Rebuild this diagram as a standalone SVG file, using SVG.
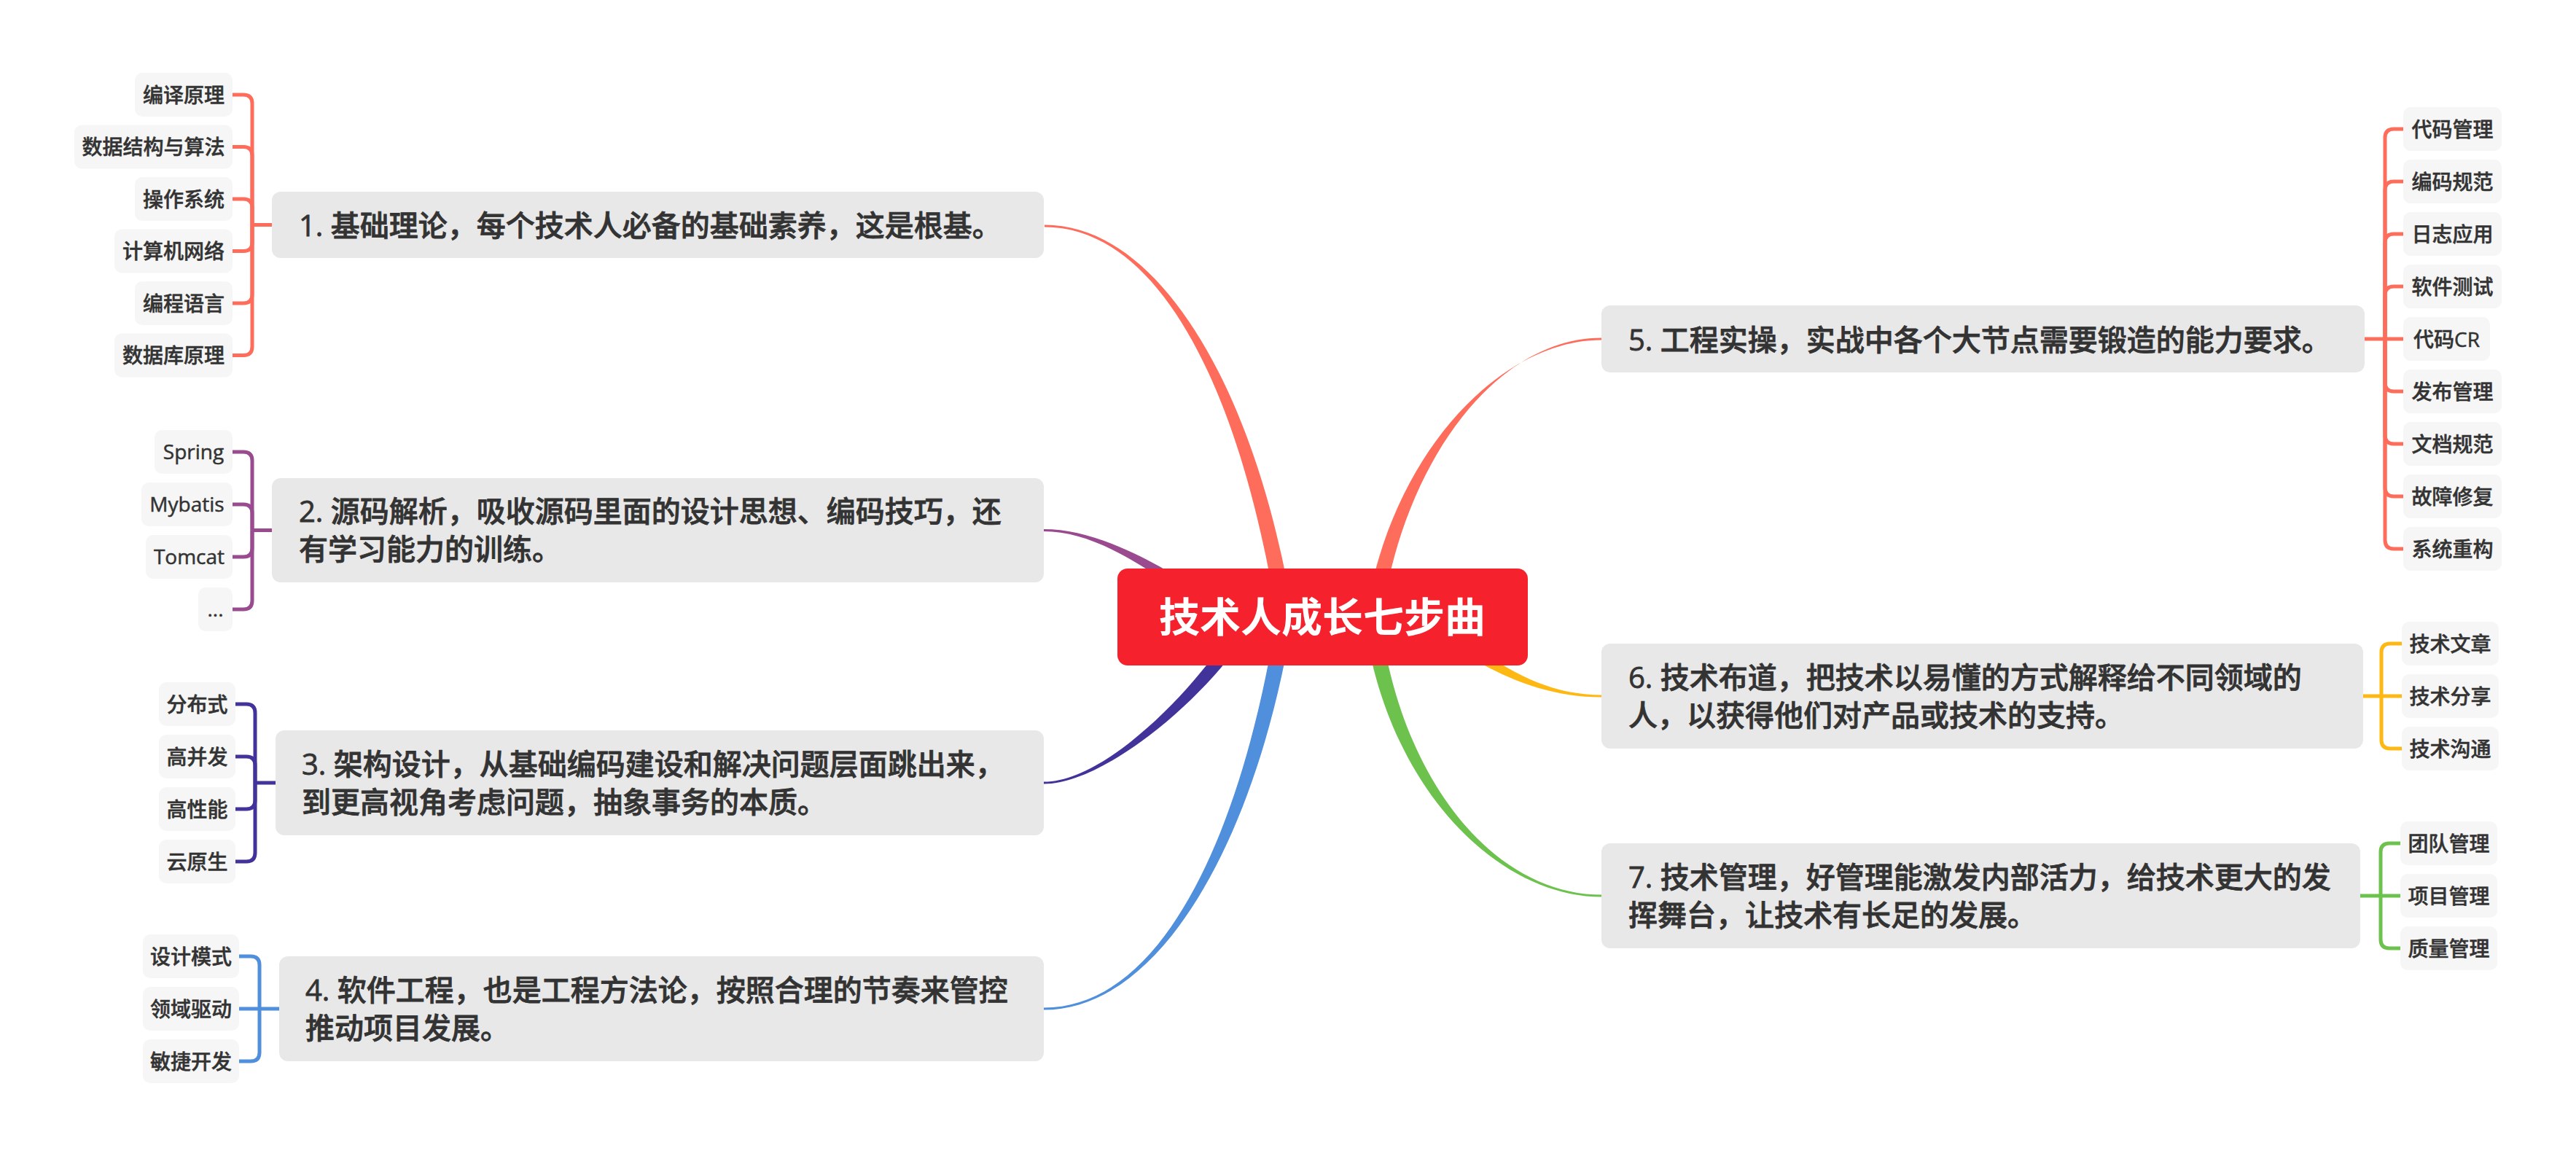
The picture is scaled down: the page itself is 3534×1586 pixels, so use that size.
<svg xmlns="http://www.w3.org/2000/svg" width="3534" height="1586" viewBox="0 0 3534 1586">
<style>
.bg{fill:#ffffff}
.br rect{fill:#E8E8E8}
.lf rect{fill:#F6F6F6}
text{font-family:"Open Sans","Noto Sans CJK SC",sans-serif;fill:#333333}
.bt{font-size:40px;font-weight:500;stroke:#333333;stroke-width:0.8}
.lt{font-size:28px;text-anchor:middle;font-weight:500;stroke:#333333;stroke-width:0.5}
.rt{font-size:56px;font-weight:bold;fill:#ffffff;text-anchor:middle}
.lk{fill:none;stroke-width:5;stroke-linejoin:round}
.c1{stroke:#FE6D5B}.f1{fill:#FE6D5B}
.c2{stroke:#9A4A8E}.f2{fill:#9A4A8E}
.c3{stroke:#42339A}.f3{fill:#42339A}
.c4{stroke:#4F8FDB}.f4{fill:#4F8FDB}
.c6{stroke:#FDB813}.f6{fill:#FDB813}
.c7{stroke:#6DC24E}.f7{fill:#6DC24E}
</style>
<rect class="bg" x="0" y="0" width="3534" height="1586"/>
<g id="connectors">
  <path class="f1" d="M1433,308.5 C1600,308.5 1730.9,558.4 1775.9,858.4 L1754.1,861.6 C1709.1,561.6 1600,311.5 1433,311.5 Z"/>
  <path class="f2" d="M1432,726 C1520,726 1626.1,792.1 1716.1,862.1 L1703.9,877.9 C1613.9,807.9 1520,729 1432,729 Z"/>
  <path class="f3" d="M1432,1075.5 C1520,1075.5 1668.7,944.9 1718.7,854.9 L1701.3,845.1 C1651.3,935.1 1520,1072.5 1432,1072.5 Z"/>
  <path class="f4" d="M1432,1385.5 C1600,1385.5 1730.9,1131.6 1775.9,831.6 L1754.1,828.4 C1709.1,1128.4 1600,1382.5 1432,1382.5 Z"/>
  <path class="f1" d="M2197,463.5 C2050,463.5 1915.9,641.1 1890.9,881.1 L1869.1,878.9 C1894.1,638.9 2050,466.5 2197,466.5 Z"/>
  <path class="f6" d="M2197,953.5 C2100,953.5 2026.5,892.4 1956.5,832.4 L1943.5,847.6 C2013.5,907.6 2100,956.5 2197,956.5 Z"/>
  <path class="f7" d="M2197,1227.5 C2050,1227.5 1915.9,1068.9 1890.9,828.9 L1869.1,831.1 C1894.1,1071.1 2050,1230.5 2197,1230.5 Z"/>

  <g class="lk c1">
    <path d="M319,130 H334 Q346,130 346,142 V308.5"/>
    <path d="M319,201.5 H334 Q346,201.5 346,213.5 V308.5"/>
    <path d="M319,273 H334 Q346,273 346,285 V308.5"/>
    <path d="M319,344.5 H334 Q346,344.5 346,332.5 V308.5"/>
    <path d="M319,416 H334 Q346,416 346,404 V308.5"/>
    <path d="M319,487.5 H334 Q346,487.5 346,475.5 V308.5"/>
    <path d="M346,308.5 H373"/>
  </g>
  <g class="lk c2">
    <path d="M319,620 H334 Q346,620 346,632 V727.5"/>
    <path d="M319,692 H334 Q346,692 346,704 V727.5"/>
    <path d="M319,764 H334 Q346,764 346,752 V727.5"/>
    <path d="M319,836 H334 Q346,836 346,824 V727.5"/>
    <path d="M346,727.5 H373"/>
  </g>
  <g class="lk c3">
    <path d="M323,966 H338 Q350,966 350,978 V1074"/>
    <path d="M323,1038 H338 Q350,1038 350,1050 V1074"/>
    <path d="M323,1110 H338 Q350,1110 350,1098 V1074"/>
    <path d="M323,1182 H338 Q350,1182 350,1170 V1074"/>
    <path d="M350,1074 H378"/>
  </g>
  <g class="lk c4">
    <path d="M328,1312 H344 Q356,1312 356,1324 V1384"/>
    <path d="M328,1384 H383"/>
    <path d="M328,1456 H344 Q356,1456 356,1444 V1384"/>
  </g>
  <g class="lk c1">
    <path d="M3297,177 H3284 Q3272,177 3272,189 V465"/>
    <path d="M3297,249 H3284 Q3272,249 3272,261 V465"/>
    <path d="M3297,321 H3284 Q3272,321 3272,333 V465"/>
    <path d="M3297,393 H3284 Q3272,393 3272,405 V465"/>
    <path d="M3244,465 H3297"/>
    <path d="M3297,537 H3284 Q3272,537 3272,525 V465"/>
    <path d="M3297,609 H3284 Q3272,609 3272,597 V465"/>
    <path d="M3297,681 H3284 Q3272,681 3272,669 V465"/>
    <path d="M3297,753 H3284 Q3272,753 3272,741 V465"/>
  </g>
  <g class="lk c6">
    <path d="M3295,883 H3279 Q3267,883 3267,895 V955"/>
    <path d="M3242,955 H3295"/>
    <path d="M3295,1027 H3279 Q3267,1027 3267,1015 V955"/>
  </g>
  <g class="lk c7">
    <path d="M3293,1157 H3278 Q3266,1157 3266,1169 V1229"/>
    <path d="M3238,1229 H3293"/>
    <path d="M3293,1301 H3278 Q3266,1301 3266,1289 V1229"/>
  </g>
</g>

<g id="root">
  <rect x="1533" y="780" width="563" height="133" rx="14" fill="#F5222D"/>
  <text class="rt" x="1814" y="867">技术人成长七步曲</text>
</g>

<g id="branch1" class="br">
  <rect x="373" y="263" width="1059" height="91" rx="12"/>
  <text class="bt" x="410" y="324">1. 基础理论，每个技术人必备的基础素养，这是根基。</text>
</g>
<g id="branch2" class="br">
  <rect x="373" y="656" width="1059" height="143" rx="12"/>
  <text class="bt" x="410" y="716">2. 源码解析，吸收源码里面的设计思想、编码技巧，还</text>
  <text class="bt" x="410" y="768">有学习能力的训练。</text>
</g>
<g id="branch3" class="br">
  <rect x="378" y="1002" width="1054" height="144" rx="12"/>
  <text class="bt" x="414" y="1063">3. 架构设计，从基础编码建设和解决问题层面跳出来，</text>
  <text class="bt" x="414" y="1115">到更高视角考虑问题，抽象事务的本质。</text>
</g>
<g id="branch4" class="br">
  <rect x="383" y="1312" width="1049" height="144" rx="12"/>
  <text class="bt" x="419" y="1373">4. 软件工程，也是工程方法论，按照合理的节奏来管控</text>
  <text class="bt" x="419" y="1425">推动项目发展。</text>
</g>
<g id="branch5" class="br">
  <rect x="2197" y="419" width="1047" height="92" rx="12"/>
  <text class="bt" x="2234" y="481">5. 工程实操，实战中各个大节点需要锻造的能力要求。</text>
</g>
<g id="branch6" class="br">
  <rect x="2197" y="883" width="1045" height="144" rx="12"/>
  <text class="bt" x="2234" y="944">6. 技术布道，把技术以易懂的方式解释给不同领域的</text>
  <text class="bt" x="2234" y="996">人，以获得他们对产品或技术的支持。</text>
</g>
<g id="branch7" class="br">
  <rect x="2197" y="1157" width="1041" height="144" rx="12"/>
  <text class="bt" x="2234" y="1218">7. 技术管理，好管理能激发内部活力，给技术更大的发</text>
  <text class="bt" x="2234" y="1270">挥舞台，让技术有长足的发展。</text>
</g>

<g id="b1-leaves" class="lf">
  <g id="l1a"><rect x="185" y="100" width="134" height="60" rx="10"/><text class="lt" x="252" y="140.5">编译原理</text></g>
  <g id="l1b"><rect x="102" y="171.5" width="217" height="60" rx="10"/><text class="lt" x="210.5" y="212">数据结构与算法</text></g>
  <g id="l1c"><rect x="185" y="243" width="134" height="60" rx="10"/><text class="lt" x="252" y="283.5">操作系统</text></g>
  <g id="l1d"><rect x="157" y="314.5" width="162" height="60" rx="10"/><text class="lt" x="238" y="355">计算机网络</text></g>
  <g id="l1e"><rect x="185" y="386" width="134" height="60" rx="10"/><text class="lt" x="252" y="426.5">编程语言</text></g>
  <g id="l1f"><rect x="157" y="457.5" width="162" height="60" rx="10"/><text class="lt" x="238" y="498">数据库原理</text></g>
</g>
<g id="b2-leaves" class="lf">
  <g id="l2a"><rect x="212" y="590" width="107" height="60" rx="10"/><text class="lt" x="265.5" y="630">Spring</text></g>
  <g id="l2b"><rect x="194" y="662" width="125" height="60" rx="10"/><text class="lt" x="256.5" y="702">Mybatis</text></g>
  <g id="l2c"><rect x="200" y="734" width="119" height="60" rx="10"/><text class="lt" x="259.5" y="774">Tomcat</text></g>
  <g id="l2d"><rect x="272" y="806" width="47" height="60" rx="10"/><text class="lt" x="295.5" y="846">...</text></g>
</g>
<g id="b3-leaves" class="lf">
  <g id="l3a"><rect x="218" y="936" width="105" height="60" rx="10"/><text class="lt" x="270.5" y="976.5">分布式</text></g>
  <g id="l3b"><rect x="218" y="1008" width="105" height="60" rx="10"/><text class="lt" x="270.5" y="1048.5">高并发</text></g>
  <g id="l3c"><rect x="218" y="1080" width="105" height="60" rx="10"/><text class="lt" x="270.5" y="1120.5">高性能</text></g>
  <g id="l3d"><rect x="218" y="1152" width="105" height="60" rx="10"/><text class="lt" x="270.5" y="1192.5">云原生</text></g>
</g>
<g id="b4-leaves" class="lf">
  <g id="l4a"><rect x="196" y="1282" width="132" height="60" rx="10"/><text class="lt" x="262" y="1322.5">设计模式</text></g>
  <g id="l4b"><rect x="196" y="1354" width="132" height="60" rx="10"/><text class="lt" x="262" y="1394.5">领域驱动</text></g>
  <g id="l4c"><rect x="196" y="1426" width="132" height="60" rx="10"/><text class="lt" x="262" y="1466.5">敏捷开发</text></g>
</g>
<g id="b5-leaves" class="lf">
  <g id="l5a"><rect x="3297" y="147" width="135" height="60" rx="10"/><text class="lt" x="3364.5" y="187.5">代码管理</text></g>
  <g id="l5b"><rect x="3297" y="219" width="135" height="60" rx="10"/><text class="lt" x="3364.5" y="259.5">编码规范</text></g>
  <g id="l5c"><rect x="3297" y="291" width="135" height="60" rx="10"/><text class="lt" x="3364.5" y="331.5">日志应用</text></g>
  <g id="l5d"><rect x="3297" y="363" width="135" height="60" rx="10"/><text class="lt" x="3364.5" y="403.5">软件测试</text></g>
  <g id="l5e"><rect x="3297" y="435" width="119" height="60" rx="10"/><text class="lt" x="3356.5" y="475.5">代码CR</text></g>
  <g id="l5f"><rect x="3297" y="507" width="135" height="60" rx="10"/><text class="lt" x="3364.5" y="547.5">发布管理</text></g>
  <g id="l5g"><rect x="3297" y="579" width="135" height="60" rx="10"/><text class="lt" x="3364.5" y="619.5">文档规范</text></g>
  <g id="l5h"><rect x="3297" y="651" width="135" height="60" rx="10"/><text class="lt" x="3364.5" y="691.5">故障修复</text></g>
  <g id="l5i"><rect x="3297" y="723" width="135" height="60" rx="10"/><text class="lt" x="3364.5" y="763.5">系统重构</text></g>
</g>
<g id="b6-leaves" class="lf">
  <g id="l6a"><rect x="3295" y="853" width="133" height="60" rx="10"/><text class="lt" x="3361.5" y="893.5">技术文章</text></g>
  <g id="l6b"><rect x="3295" y="925" width="133" height="60" rx="10"/><text class="lt" x="3361.5" y="965.5">技术分享</text></g>
  <g id="l6c"><rect x="3295" y="997" width="133" height="60" rx="10"/><text class="lt" x="3361.5" y="1037.5">技术沟通</text></g>
</g>
<g id="b7-leaves" class="lf">
  <g id="l7a"><rect x="3293" y="1127" width="133" height="60" rx="10"/><text class="lt" x="3359.5" y="1167.5">团队管理</text></g>
  <g id="l7b"><rect x="3293" y="1199" width="133" height="60" rx="10"/><text class="lt" x="3359.5" y="1239.5">项目管理</text></g>
  <g id="l7c"><rect x="3293" y="1271" width="133" height="60" rx="10"/><text class="lt" x="3359.5" y="1311.5">质量管理</text></g>
</g>
</svg>
